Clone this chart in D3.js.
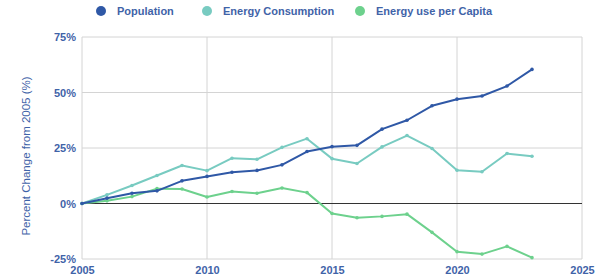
<!DOCTYPE html>
<html>
<head>
<meta charset="utf-8">
<script src="https://cdn.jsdelivr.net/npm/d3@7"></script>
<style>
  body { margin: 0; background: #fff; }
  text { font-family: "Liberation Sans", Arial, sans-serif; }
</style>
</head>
<body>
<svg id="chart"></svg>
<script>
const years = d3.range(2005, 2024);
const population = [0, 2.4, 4.6, 5.7, 10.2, 12.2, 14.1, 14.9, 17.4, 23.4, 25.6, 26.2, 33.5, 37.5, 44, 47, 48.4, 52.9, 60.4];
const energyConsumption = [0, 3.9, 8.1, 12.6, 17.1, 14.8, 20.4, 19.9, 25.3, 29.2, 20.2, 18, 25.5, 30.6, 24.8, 15, 14.3, 22.5, 21.3];
const energyPerCapita = [0, 1.2, 3.1, 6.7, 6.5, 2.9, 5.4, 4.6, 7, 4.9, -4.5, -6.4, -5.8, -4.8, -13, -21.7, -22.8, -19.3, -24.4];
const xTicks = [2005, 2010, 2015, 2020, 2025];
const yTicks = [-25, 0, 25, 50, 75];

const seriesList = [
  { name: 'Population', values: population, color: '#2f58a6' },
  { name: 'Energy Consumption', values: energyConsumption, color: '#78cbc1' },
  { name: 'Energy use per Capita', values: energyPerCapita, color: '#6dd18d' },
];

const width = 609, height = 279;
const margin = { top: 37, right: 27, bottom: 20, left: 82 };
const labelColor = '#3f63a8';

const svg = d3.select('#chart').attr('width', width).attr('height', height);

const x = d3.scaleLinear().domain([2005, 2025]).range([margin.left, width - margin.right]);
const y = d3.scaleLinear().domain([-25, 75]).range([height - margin.bottom, margin.top]);

// grid
svg.append('g')
  .selectAll('line')
  .data(xTicks)
  .join('line')
  .attr('x1', d => x(d)).attr('x2', d => x(d))
  .attr('y1', y(75)).attr('y2', y(-25))
  .attr('stroke', '#d4d4d4').attr('stroke-width', 1);

svg.append('g')
  .selectAll('line')
  .data(yTicks.filter(d => d !== 0))
  .join('line')
  .attr('x1', x(2005)).attr('x2', x(2025))
  .attr('y1', d => y(d)).attr('y2', d => y(d))
  .attr('stroke', '#d4d4d4').attr('stroke-width', 1);

svg.append('line')
  .attr('x1', x(2005)).attr('x2', x(2025))
  .attr('y1', y(0)).attr('y2', y(0))
  .attr('stroke', '#333').attr('stroke-width', 1.2);

// axes
const yAxis = svg.append('g')
  .attr('transform', `translate(${x(2005) - 6},0)`)
  .call(d3.axisLeft(y).tickValues(yTicks).tickSize(0).tickFormat(d => d + '%'));
yAxis.select('.domain').remove();
yAxis.selectAll('text')
  .attr('fill', labelColor).attr('font-size', 11).attr('font-weight', 'bold').attr('x', 0);

const xAxis = svg.append('g')
  .attr('transform', `translate(0,${y(-25)})`)
  .call(d3.axisBottom(x).tickValues(xTicks).tickSize(0).tickFormat(d3.format('d')));
xAxis.select('.domain').remove();
xAxis.selectAll('text')
  .attr('fill', labelColor).attr('font-size', 11).attr('font-weight', 'bold').attr('dy', '1.05em');

svg.append('text')
  .attr('transform', 'translate(30,156) rotate(-90)')
  .attr('text-anchor', 'middle')
  .attr('fill', labelColor)
  .attr('font-size', 11.5)
  .text('Percent Change from 2005 (%)');

// lines
const line = d3.line().x((d, i) => x(years[i])).y(d => y(d));

seriesList.slice().reverse().forEach(s => {
  svg.append('path')
    .datum(s.values)
    .attr('fill', 'none')
    .attr('stroke', s.color)
    .attr('stroke-width', 2)
    .attr('stroke-linejoin', 'round')
    .attr('d', line);
  svg.append('g')
    .selectAll('circle')
    .data(s.values)
    .join('circle')
    .attr('cx', (d, i) => x(years[i]))
    .attr('cy', d => y(d))
    .attr('r', 1.8)
    .attr('fill', s.color);
});

// legend
const legendX = [101, 207, 360];
const legend = svg.append('g')
  .selectAll('g')
  .data(seriesList)
  .join('g')
  .attr('transform', (d, i) => `translate(${legendX[i]},11)`);
legend.append('circle').attr('r', 5).attr('fill', d => d.color);
legend.append('text')
  .attr('x', 16).attr('dy', '0.35em')
  .attr('fill', labelColor)
  .attr('font-size', 11).attr('font-weight', 'bold')
  .text(d => d.name);
</script>
</body>
</html>
